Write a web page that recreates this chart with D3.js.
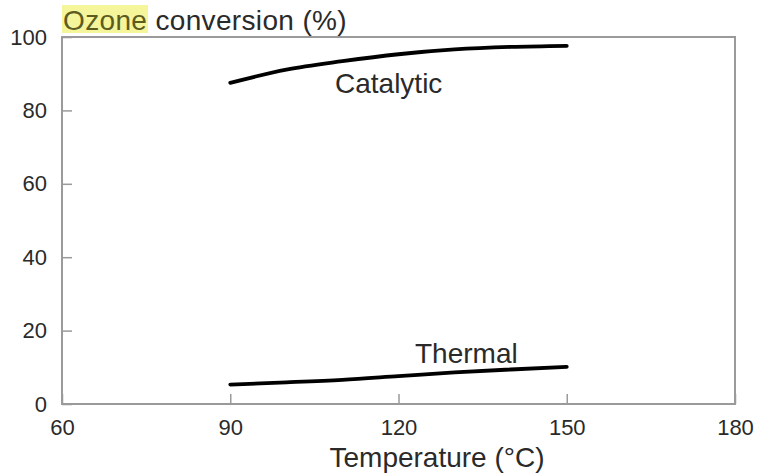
<!DOCTYPE html>
<html>
<head>
<meta charset="utf-8">
<script src="https://cdn.jsdelivr.net/npm/d3@7"></script>
<style>
  html, body { margin: 0; padding: 0; background: #fff; }
  svg { display: block; font-family: "Liberation Sans", Arial, Helvetica, sans-serif; }
</style>
</head>
<body>
<svg id="chart" width="759" height="474"></svg>
<script>
// Ozone conversion vs temperature, catalytic and thermal decomposition
const temperatures = [90, 100, 110, 120, 130, 140, 150];
const catalytic = [87.5, 91.1, 93.4, 95.3, 96.6, 97.3, 97.6];
const thermal = [5.3, 5.9, 6.6, 7.6, 8.6, 9.4, 10.1];
const xTicks = [60, 90, 120, 150, 180];
const yTicks = [0, 20, 40, 60, 80, 100];

const svg = d3.select("#chart");
const margin = { left: 62, top: 37, right: 24, bottom: 70 };
const W = 759, H = 474;

const x = d3.scaleLinear().domain([60, 180]).range([margin.left, W - margin.right]);
const y = d3.scaleLinear().domain([0, 100]).range([H - margin.bottom, margin.top]);

const axisColor = "#9a9a9a";
const textColor = "#2a2a2a";

// y axis with inward ticks
const gy = svg.append("g")
  .attr("transform", `translate(${x(60)},0)`)
  .call(d3.axisLeft(y).tickValues(yTicks).tickSizeInner(-10).tickSizeOuter(0).tickPadding(15));
gy.select(".domain").remove();
gy.selectAll(".tick line").attr("stroke", axisColor).attr("stroke-width", 1.5);
gy.selectAll(".tick text").attr("fill", textColor).style("font-size", "22px");

// x axis with inward ticks
const gx = svg.append("g")
  .attr("transform", `translate(0,${y(0)})`)
  .call(d3.axisBottom(x).tickValues(xTicks).tickSizeInner(-10).tickSizeOuter(0).tickPadding(15));
gx.select(".domain").remove();
gx.selectAll(".tick line").attr("stroke", axisColor).attr("stroke-width", 1.5);
gx.selectAll(".tick text").attr("fill", textColor).style("font-size", "22px");

// plot frame
svg.append("rect")
  .attr("x", x(60)).attr("y", y(100))
  .attr("width", x(180) - x(60)).attr("height", y(0) - y(100))
  .attr("fill", "none").attr("stroke", axisColor).attr("stroke-width", 2);

// curves
const line = d3.line()
  .x((d, i) => x(temperatures[i]))
  .y(d => y(d))
  .curve(d3.curveMonotoneX);

[catalytic, thermal].forEach(series => {
  svg.append("path")
    .datum(series)
    .attr("d", line)
    .attr("fill", "none")
    .attr("stroke", "#000")
    .attr("stroke-width", 3.8)
    .attr("stroke-linecap", "round");
});

// curve labels
svg.append("text").attr("x", 335).attr("y", 93)
  .attr("fill", textColor).style("font-size", "28px").text("Catalytic");
svg.append("text").attr("x", 415).attr("y", 363)
  .attr("fill", textColor).style("font-size", "28px").text("Thermal");

// axis title (x)
svg.append("text").attr("x", 437).attr("y", 467)
  .attr("text-anchor", "middle")
  .attr("fill", textColor).style("font-size", "28px").text("Temperature (°C)");

// y title with highlighted first word
svg.append("rect").attr("x", 62).attr("y", 5).attr("width", 86).attr("height", 28)
  .attr("fill", "#f5f59c");
const title = svg.append("text").attr("x", 63).attr("y", 30)
  .style("font-size", "28px").style("letter-spacing", "0.35px").attr("fill", textColor);
title.append("tspan").attr("fill", "#5c5c1e").text("Ozone");
title.append("tspan").text(" conversion (%)");
</script>
</body>
</html>
